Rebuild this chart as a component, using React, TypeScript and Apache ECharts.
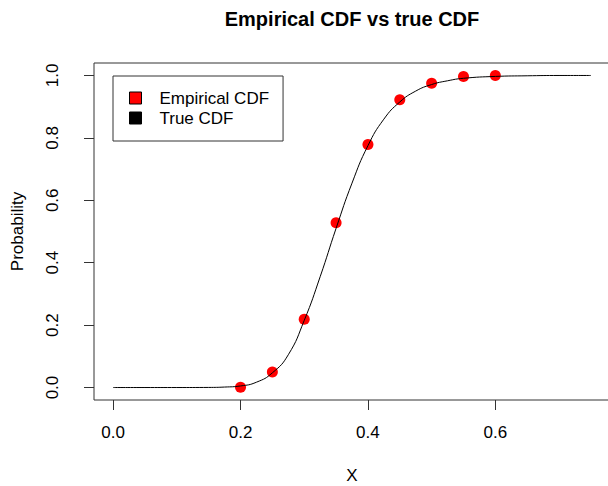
import React, { useEffect, useRef } from "react";
import * as echarts from "echarts";

const pointX = [0.2, 0.25, 0.3, 0.35, 0.4, 0.45, 0.5, 0.55, 0.6];
const pointY = [0.001, 0.05, 0.219, 0.528, 0.779, 0.922, 0.975, 0.997, 1.0];

const curveX = [0, 0.05, 0.1, 0.15, 0.175, 0.2, 0.225, 0.25, 0.275, 0.3, 0.325, 0.35, 0.375, 0.4, 0.425, 0.45, 0.475, 0.5, 0.525, 0.55, 0.6, 0.65, 0.7, 0.75];
const curveY = [0, 0, 0, 0.0003, 0.0015, 0.005, 0.017, 0.047, 0.105, 0.215, 0.355, 0.51, 0.655, 0.775, 0.86, 0.915, 0.95, 0.971, 0.983, 0.991, 0.997, 0.999, 1.0, 1.0];

const xTicks = [0, 0.2, 0.4, 0.6];
const yTicks = [0, 0.2, 0.4, 0.6, 0.8, 1.0];

const FONT = "'Liberation Sans', Arial, Helvetica, sans-serif";

export default function App() {
  const ref = useRef<HTMLDivElement>(null);
  useEffect(() => {
    if (!ref.current) return;
    const chart = echarts.init(ref.current, null, { renderer: "svg" });
    chart.setOption({
      animation: false,
      backgroundColor: "#ffffff",
      title: {
        text: "Empirical CDF vs true CDF",
        left: 352,
        textAlign: "center",
        top: 9,
        padding: 0,
        textStyle: { fontFamily: FONT, fontSize: 20, fontWeight: "bold", color: "#000" },
      },
      legend: {
        orient: "vertical",
        left: 113,
        top: 76,
        padding: [12, 14, 13, 16],
        itemGap: 0,
        itemWidth: 12,
        itemHeight: 12,
        borderColor: "#333",
        borderWidth: 1,
        borderRadius: 0,
        selectedMode: false,
        textStyle: { fontFamily: FONT, fontSize: 17, color: "#000", lineHeight: 20, padding: [0, 0, 0, 13] },
        data: [
          { name: "Empirical CDF", icon: "rect", itemStyle: { color: "#ff0000", borderColor: "#000", borderWidth: 1, opacity: 1 } },
          { name: "True CDF", icon: "rect", itemStyle: { color: "#000", borderColor: "#000", borderWidth: 1 } },
        ],
      },
      grid: {
        left: 94,
        top: 63,
        width: 516,
        height: 337,
        containLabel: false,
        outerBoundsMode: "none",
        show: true,
        borderColor: "#333",
        borderWidth: 1,
        backgroundColor: "transparent",
      },
      xAxis: {
        type: "value",
        min: -0.03,
        max: 0.78,
        name: "X",
        nameLocation: "middle",
        nameGap: 67,
        nameTextStyle: { fontFamily: FONT, fontSize: 17, color: "#000" },
        axisLine: { show: false, onZero: false },
        splitLine: { show: false },
        axisTick: { show: true, inside: false, customValues: xTicks, length: 10, lineStyle: { color: "#333" } },
        axisLabel: {
          customValues: xTicks,
          margin: 24,
          fontFamily: FONT,
          fontSize: 17,
          color: "#000",
          formatter: (v: number) => v.toFixed(1),
        },
      },
      yAxis: {
        type: "value",
        min: -0.04,
        max: 1.04,
        name: "Probability",
        nameLocation: "middle",
        nameGap: 68,
        nameTextStyle: { fontFamily: FONT, fontSize: 17, color: "#000" },
        axisLine: { show: false, onZero: false },
        splitLine: { show: false },
        axisTick: { show: true, inside: false, customValues: yTicks, length: 10, lineStyle: { color: "#333" } },
        axisLabel: {
          customValues: yTicks,
          rotate: 90,
          margin: 33,
          fontFamily: FONT,
          fontSize: 17,
          color: "#000",
          formatter: (v: number) => v.toFixed(1),
        },
      },
      series: [
        {
          name: "Empirical CDF",
          type: "scatter",
          data: pointX.map((x, i) => [x, pointY[i]]),
          symbol: "circle",
          symbolSize: 11,
          itemStyle: { color: "#ff0000", opacity: 1 },
          z: 2,
        },
        {
          name: "True CDF",
          type: "line",
          data: curveX.map((x, i) => [x, curveY[i]]),
          smooth: 0.5,
          showSymbol: false,
          symbol: "none",
          lineStyle: { color: "#000", width: 1 },
          itemStyle: { color: "#000" },
          z: 3,
        },
      ],
    });
    return () => chart.dispose();
  }, []);
  return <div ref={ref} style={{ position: "fixed", left: 0, top: 0, width: 608, height: 486 }} />;
}
